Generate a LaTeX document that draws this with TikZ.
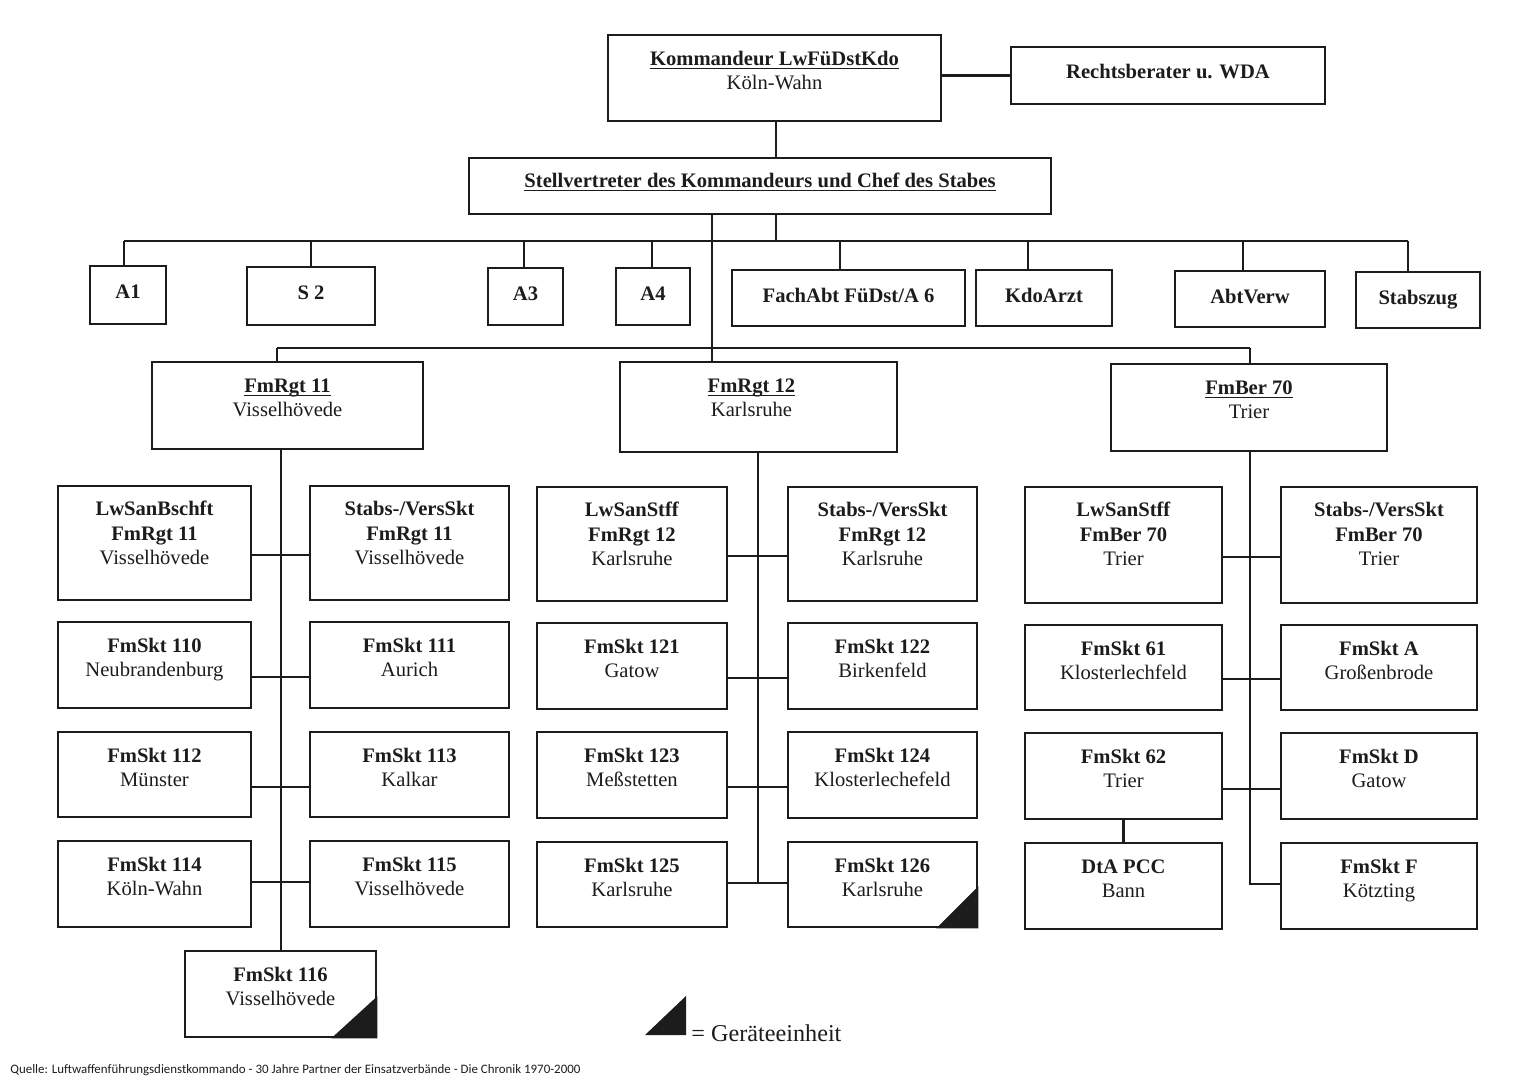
\documentclass[tikz,border=0pt]{standalone}
\usepackage{fontspec}
\setmainfont{Liberation Serif}
\newfontfamily\srcfont{Carlito}
\usetikzlibrary{fit,calc}
\definecolor{ink}{RGB}{28,28,28}
\newcommand\OBx[7][7.2pt]{%
  \node[box, fit={(#3,#4) (#5,#6)}] (#2) {};
  \node[boxtext] (#2-t) at ([yshift=-#1]#2.north) {#7};
}
\newcommand\UL[1]{\underline{\smash{#1}}}
\begin{document}
\begin{tikzpicture}[x=0.5pt,y=-0.5pt,
  box/.style={draw=ink, line width=1.3pt, inner sep=0pt, rectangle},
  boxtext/.style={anchor=north, inner sep=0pt, align=center, text=ink, font=\fontsize{10.3}{12.2}\selectfont},
  conn/.style={draw=ink, line width=1.2pt},
  geraet/.style={fill=ink}]
\useasboundingbox (0,0) rectangle (1515,1085);

% --- top
\OBx{kdr}{608}{35}{941}{121}{\strut\UL{\textbf{Kommandeur LwFüDstKdo}}\\Köln-Wahn}
\OBx[7.9pt]{rb}{1011}{47}{1325}{104}{\strut\textbf{Rechtsberater u. WDA}}
\OBx[6.7pt]{stv}{469}{158}{1051}{214}{\strut\UL{\textbf{Stellvertreter des Kommandeurs und Chef des Stabes}}}

% --- staff row
\OBx[8pt]{a1}{90}{266}{166}{324}{\strut\textbf{A1}}
\OBx[8pt]{s2}{247}{267}{375}{325}{\strut\textbf{S 2}}
\OBx[8pt]{a3}{488}{268}{563}{325}{\strut\textbf{A3}}
\OBx[8pt]{a4}{616}{268}{690}{325}{\strut\textbf{A4}}
\OBx[8pt]{fa}{732}{270}{965}{326}{\strut\textbf{FachAbt FüDst/A 6}}
\OBx[8pt]{ka}{976}{270}{1112}{326}{\strut\textbf{KdoArzt}}
\OBx[8pt]{av}{1175}{271}{1325}{327}{\strut\textbf{AbtVerw}}
\OBx[8pt]{sz}{1356}{272}{1480}{328}{\strut\textbf{Stabszug}}

% --- regiments
\OBx{rg11}{152}{362}{423}{449}{\strut\UL{\textbf{FmRgt 11}}\\Visselhövede}
\OBx[7.2pt,xshift=-3.5pt]{rg12}{620}{362}{897}{452}{\strut\UL{\textbf{FmRgt 12}}\\Karlsruhe}
\OBx{fb70}{1111}{364}{1387}{451}{\strut\UL{\textbf{FmBer 70}}\\Trier}

% --- group 1
\OBx[6.8pt]{g1a}{58}{486}{251}{600}{\strut\textbf{LwSanBschft}\\\textbf{FmRgt 11}\\Visselhövede}
\OBx[6.8pt]{g1b}{310}{486}{509}{600}{\strut\textbf{Stabs-/VersSkt}\\\textbf{FmRgt 11}\\Visselhövede}
\OBx{g1c}{58}{622}{251}{708}{\strut\textbf{FmSkt 110}\\Neubrandenburg}
\OBx{g1d}{310}{622}{509}{708}{\strut\textbf{FmSkt 111}\\Aurich}
\OBx{g1e}{58}{732}{251}{817}{\strut\textbf{FmSkt 112}\\Münster}
\OBx{g1f}{310}{732}{509}{817}{\strut\textbf{FmSkt 113}\\Kalkar}
\OBx{g1g}{58}{841}{251}{927}{\strut\textbf{FmSkt 114}\\Köln-Wahn}
\OBx{g1h}{310}{841}{509}{927}{\strut\textbf{FmSkt 115}\\Visselhövede}
\OBx{g1i}{185}{951}{376}{1037}{\strut\textbf{FmSkt 116}\\Visselhövede}

% --- group 2
\OBx[6.8pt]{g2a}{537}{487}{727}{601}{\strut\textbf{LwSanStff}\\\textbf{FmRgt 12}\\Karlsruhe}
\OBx[6.8pt]{g2b}{788}{487}{977}{601}{\strut\textbf{Stabs-/VersSkt}\\\textbf{FmRgt 12}\\Karlsruhe}
\OBx{g2c}{537}{623}{727}{709}{\strut\textbf{FmSkt 121}\\Gatow}
\OBx{g2d}{788}{623}{977}{709}{\strut\textbf{FmSkt 122}\\Birkenfeld}
\OBx{g2e}{537}{732}{727}{818}{\strut\textbf{FmSkt 123}\\Meßstetten}
\OBx{g2f}{788}{732}{977}{818}{\strut\textbf{FmSkt 124}\\Klosterlechefeld}
\OBx{g2g}{537}{842}{727}{927}{\strut\textbf{FmSkt 125}\\Karlsruhe}
\OBx{g2h}{788}{842}{977}{927}{\strut\textbf{FmSkt 126}\\Karlsruhe}

% --- group 3
\OBx[6.8pt]{g3a}{1025}{487}{1222}{603}{\strut\textbf{LwSanStff}\\\textbf{FmBer 70}\\Trier}
\OBx[6.8pt]{g3b}{1281}{487}{1477}{603}{\strut\textbf{Stabs-/VersSkt}\\\textbf{FmBer 70}\\Trier}
\OBx{g3c}{1025}{625}{1222}{710}{\strut\textbf{FmSkt 61}\\Klosterlechfeld}
\OBx{g3d}{1281}{625}{1477}{710}{\strut\textbf{FmSkt A}\\Großenbrode}
\OBx{g3e}{1025}{733}{1222}{819}{\strut\textbf{FmSkt 62}\\Trier}
\OBx{g3f}{1281}{733}{1477}{819}{\strut\textbf{FmSkt D}\\Gatow}
\OBx{g3g}{1025}{843}{1222}{929}{\strut\textbf{DtA PCC}\\Bann}
\OBx{g3h}{1281}{843}{1477}{929}{\strut\textbf{FmSkt F}\\Kötzting}

% --- Geräteeinheit marks
\fill[geraet] (g1i.south east) -- ++(-46,0) -- ++(46,-42) -- cycle;
\fill[geraet] (g2h.south east) -- ++(-42,0) -- ++(42,-42) -- cycle;

% --- connectors top
\coordinate (j0) at (776,241);
\draw[conn] (kdr.south -| j0) -- (stv.north -| j0);
\draw[conn] (kdr.east |- rb.west) -- (rb.west);
\draw[conn] (stv.south -| j0) -- (j0);
\coordinate (jA1) at (124,241);
\coordinate (jS2) at (311,241);
\coordinate (jA3) at (524,241);
\coordinate (jA4) at (652,241);
\coordinate (jFA) at (840,241);
\coordinate (jKA) at (1028,241);
\coordinate (jAV) at (1243,241);
\coordinate (jSZ) at (1408,241);
\draw[conn] (jA1) -- (jSZ);
\draw[conn] (jA1) -- (jA1 |- a1.north);
\draw[conn] (jS2) -- (jS2 |- s2.north);
\draw[conn] (jA3) -- (jA3 |- a3.north);
\draw[conn] (jA4) -- (jA4 |- a4.north);
\draw[conn] (jFA) -- (jFA |- fa.north);
\draw[conn] (jKA) -- (jKA |- ka.north);
\draw[conn] (jAV) -- (jAV |- av.north);
\draw[conn] (jSZ) -- (jSZ |- sz.north);

% --- bus to regiments
\coordinate (k1) at (277,348);
\coordinate (k2) at (712,348);
\coordinate (k3) at (1250,348);
\draw[conn] (stv.south -| k2) -- (rg12.north -| k2);
\draw[conn] (k1) -- (k3);
\draw[conn] (k1) -- (k1 |- rg11.north);
\draw[conn] (k3) -- (k3 |- fb70.north);

% --- group 1 connectors
\coordinate (v1a) at (281,555);
\coordinate (v1b) at (281,677);
\coordinate (v1c) at (281,787);
\coordinate (v1d) at (281,882);
\draw[conn] (rg11.south -| v1a) -- (g1i.north -| v1a);
\draw[conn] (g1a.east |- v1a) -- (g1b.west |- v1a);
\draw[conn] (g1c.east |- v1b) -- (g1d.west |- v1b);
\draw[conn] (g1e.east |- v1c) -- (g1f.west |- v1c);
\draw[conn] (g1g.east |- v1d) -- (g1h.west |- v1d);

% --- group 2 connectors
\coordinate (v2a) at (758,556);
\coordinate (v2b) at (758,678);
\coordinate (v2c) at (758,787);
\coordinate (v2d) at (758,883);
\draw[conn] (rg12.south -| v2a) -- (v2d);
\draw[conn] (g2a.east |- v2a) -- (g2b.west |- v2a);
\draw[conn] (g2c.east |- v2b) -- (g2d.west |- v2b);
\draw[conn] (g2e.east |- v2c) -- (g2f.west |- v2c);
\draw[conn] (g2g.east |- v2d) -- (g2h.west |- v2d);

% --- group 3 connectors
\coordinate (v3a) at (1250,557);
\coordinate (v3b) at (1250,679);
\coordinate (v3c) at (1250,789);
\coordinate (v3d) at (1250,884);
\draw[conn] (fb70.south -| v3a) -- (v3d) -- (v3d -| g3h.west);
\draw[conn] (g3a.east |- v3a) -- (g3b.west |- v3a);
\draw[conn] (g3c.east |- v3b) -- (g3d.west |- v3b);
\draw[conn] (g3e.east |- v3c) -- (g3f.west |- v3c);
\draw[conn] (g3e.south) -- (g3g.north);

% --- legend
\node[anchor=west, inner sep=0pt, text=ink, font=\fontsize{12.1}{14}\selectfont] (leg) at (691,1033) {= Geräteeinheit};
\fill[geraet] ([shift={(-5,2)}]leg.west) -- ++(-41,0) -- ++(41,-39) -- cycle;

% --- source
\node[anchor=west, inner sep=0pt, text=ink, font=\srcfont\fontsize{6.45}{7}\selectfont] (src) at (10,1070) {Quelle: Luftwaffenführungsdienstkommando - 30 Jahre Partner der Einsatzverbände - Die Chronik 1970-2000};
\end{tikzpicture}
\end{document}
